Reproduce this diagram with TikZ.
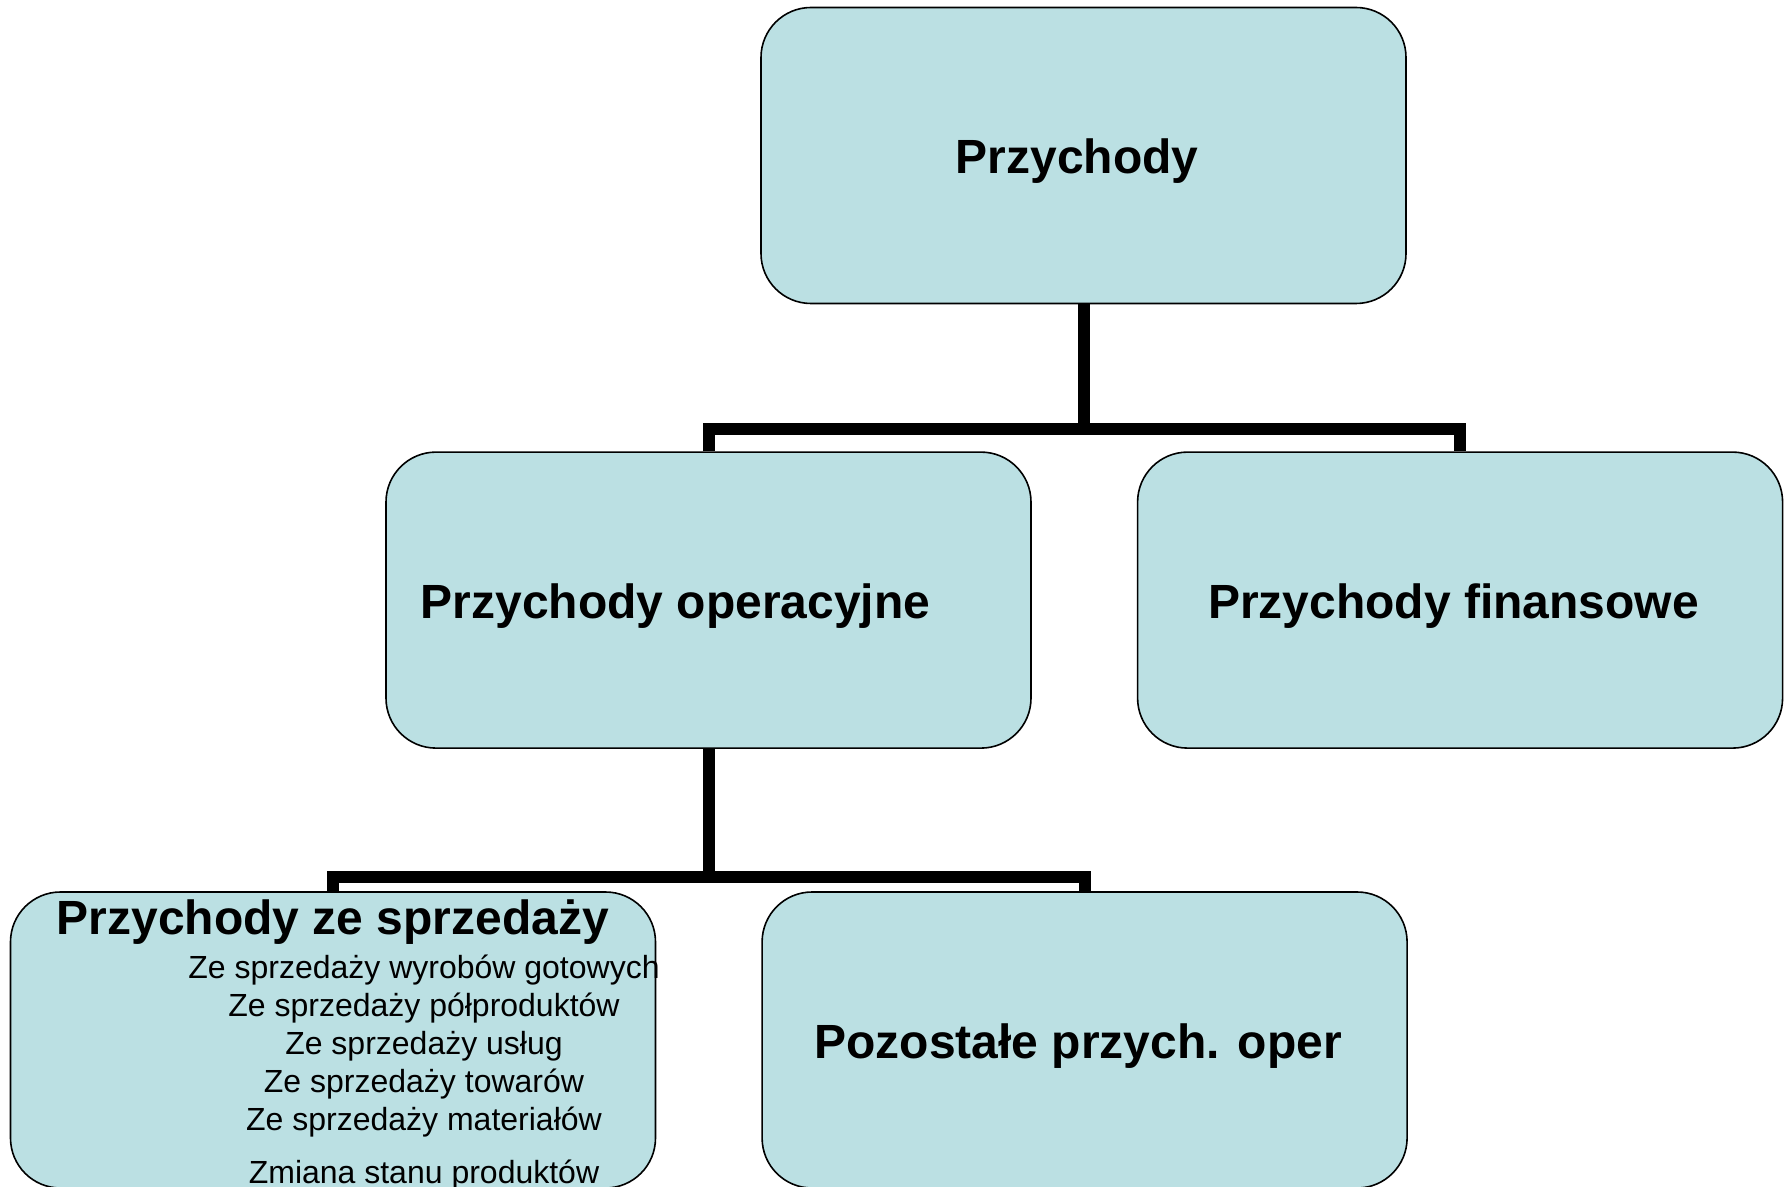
\documentclass[tikz,border=0pt]{standalone}
\usepackage{fontspec}
\setmainfont{Liberation Sans}
\usetikzlibrary{positioning}
\definecolor{boxcolor}{RGB}{187,224,227}

\begin{document}
\begin{tikzpicture}[
    x=0.5pt, y=-0.5pt,
    block/.style={rectangle, rounded corners=25pt, draw, line width=0.8pt,
        fill=boxcolor, minimum width=322.5pt, minimum height=148pt,
        inner sep=0pt, text height=21pt, text depth=2.5pt,
        font=\fontsize{24}{28}\selectfont\bfseries},
    title/.style={inner sep=0pt, font=\fontsize{24}{28}\selectfont\bfseries},
    item/.style={inner sep=0pt, align=center, font=\fontsize{16}{19}\selectfont},
    link/.style={line width=6pt}
    ]
\useasboundingbox (0,0) rectangle (1789,1187);

\node[block] (przychody) at (1083.5,155.5) {Przychody\hspace*{6.5pt}};

\node[block] (operacyjne) [below=73.5pt of przychody, xshift=-187.5pt] {Przychody operacyjne\hspace*{33pt}};

\node[block] (finansowe) [right=52.5pt of operacyjne] {Przychody finansowe\hspace*{6.5pt}};

\node[block] (sprzedaz) at (333,1040) {};

\node[block] (pozostale) [right=52.5pt of sprzedaz] {Pozostałe przych. oper\hspace*{6.5pt}};

\node[title, anchor=base] (sprzedaztitle) at (333,934) {Przychody ze sprzedaży};
\node[item, anchor=north] (sprzedazlist) at (424,955) {
	Ze sprzedaży wyrobów gotowych\\
	Ze sprzedaży półproduktów\\
	Ze sprzedaży usług\\
	Ze sprzedaży towarów\\
	Ze sprzedaży materiałów\\[7.5pt]
	Zmiana stanu produktów
};

\draw[link] (przychody.south) -- ++(0,125) coordinate (split1);
\draw[link] (operacyjne.north) |- (split1) -| (finansowe.north);
\draw[link] (operacyjne.south) -- ++(0,128) coordinate (split2);
\draw[link] (sprzedaz.north) |- (split2) -| (pozostale.north);

\end{tikzpicture}
\end{document}
